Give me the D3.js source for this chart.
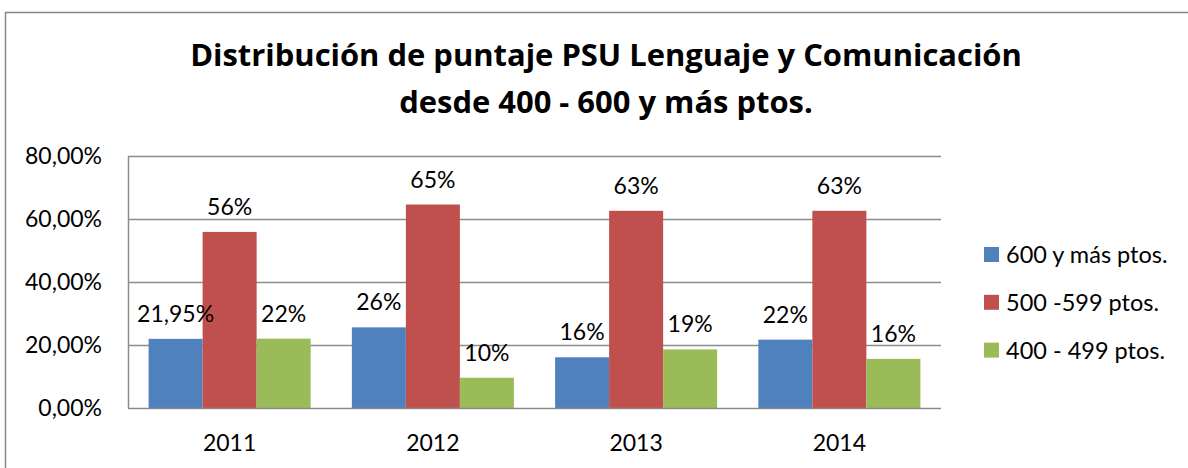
<!DOCTYPE html>
<html>
<head>
<meta charset="utf-8">
<script src="https://cdn.jsdelivr.net/npm/d3@7"></script>
<style>
  body { margin: 0; background: #fff; }
  svg { display: block; font-family: Lato, "Open Sans", sans-serif; }
</style>
</head>
<body>
<svg id="chart" width="1188" height="468"></svg>
<script>
// Chart data
const years = ['2011', '2012', '2013', '2014'];
const seriesNames = ['600 y más ptos.', '500 -599 ptos.', '400 - 499 ptos.'];
const seriesColors = ['#4F81BD', '#C0504D', '#9BBB59'];
const values600 = [21.95, 25.6, 16.1, 21.7];
const values500 = [55.9, 64.6, 62.6, 62.6];
const values400 = [22.0, 9.6, 18.6, 15.6];
const labels600 = ['21,95%', '26%', '16%', '22%'];
const labels500 = ['56%', '65%', '63%', '63%'];
const labels400 = ['22%', '10%', '19%', '16%'];
const yTicks = [0, 20, 40, 60, 80];
const titleLines = ['Distribución de puntaje PSU Lenguaje y Comunicación', 'desde 400 - 600 y más ptos.'];

const svg = d3.select('#chart');

// outer chart frame (right and bottom edges fall off the picture)
svg.append('rect')
  .attr('x', 5.5).attr('y', 12.5)
  .attr('width', 1300).attr('height', 600)
  .attr('fill', 'none')
  .attr('stroke', '#868686')
  .attr('stroke-width', 1.5);

const plot = { left: 128, right: 941, top: 156, bottom: 408 };

const x = d3.scaleBand().domain(years).range([plot.left, plot.right]);
const groupPad = 20.6;
const xs = d3.scaleBand().domain(d3.range(3))
  .range([groupPad, x.bandwidth() - groupPad]);
const y = d3.scaleLinear().domain([0, 80]).range([plot.bottom, plot.top]);

// gridlines
svg.append('g')
  .selectAll('line')
  .data(yTicks.filter(d => d > 0))
  .join('line')
  .attr('x1', plot.left).attr('x2', plot.right)
  .attr('y1', d => Math.round(y(d)) + 0.5).attr('y2', d => Math.round(y(d)) + 0.5)
  .attr('stroke', '#8c8c8c').attr('stroke-width', 1.5);

// y axis labels
svg.append('g')
  .selectAll('text')
  .data(yTicks)
  .join('text')
  .attr('x', 102)
  .attr('y', d => y(d))
  .attr('dy', '0.36em')
  .attr('text-anchor', 'end')
  .attr('font-size', 23)
  .attr('fill', '#000')
  .text(d => d.toFixed(2).replace('.', ',') + '%');

// bars
const series = [values600, values500, values400];
const seriesLabels = [labels600, labels500, labels400];
const barData = [];
series.forEach((vals, s) => {
  vals.forEach((v, i) => barData.push({ year: years[i], s, v, label: seriesLabels[s][i] }));
});

svg.append('g')
  .selectAll('rect')
  .data(barData)
  .join('rect')
  .attr('x', d => x(d.year) + xs(d.s))
  .attr('y', d => y(d.v))
  .attr('width', xs.bandwidth())
  .attr('height', d => y(0) - y(d.v))
  .attr('fill', d => seriesColors[d.s]);

// data labels
svg.append('g')
  .selectAll('text')
  .data(barData)
  .join('text')
  .attr('x', d => x(d.year) + xs(d.s) + xs.bandwidth() / 2)
  .attr('y', d => y(d.v) - 17)
  .attr('text-anchor', 'middle')
  .attr('font-size', 23)
  .attr('fill', '#000')
  .text(d => d.label);

// axes lines
svg.append('line')
  .attr('x1', plot.left + 0.5).attr('x2', plot.left + 0.5)
  .attr('y1', plot.top).attr('y2', plot.bottom)
  .attr('stroke', '#8c8c8c').attr('stroke-width', 1.5);
svg.append('line')
  .attr('x1', plot.left).attr('x2', plot.right)
  .attr('y1', plot.bottom + 0.5).attr('y2', plot.bottom + 0.5)
  .attr('stroke', '#8c8c8c').attr('stroke-width', 1.5);

// x axis labels
svg.append('g')
  .selectAll('text')
  .data(years)
  .join('text')
  .attr('x', d => x(d) + x.bandwidth() / 2)
  .attr('y', 451)
  .attr('text-anchor', 'middle')
  .attr('font-size', 23)
  .attr('fill', '#000')
  .text(d => d);

// title — sized so the first line spans ~832px like the original
const title = svg.append('g')
  .selectAll('text')
  .data(titleLines)
  .join('text')
  .attr('x', 606)
  .attr('y', (d, i) => 66 + i * 47)
  .attr('text-anchor', 'middle')
  .attr('font-family', '"Open Sans", sans-serif')
  .attr('font-size', 28)
  .attr('font-weight', 'bold')
  .attr('fill', '#000')
  .text(d => d);
const w0 = title.nodes()[0].getComputedTextLength();
title.attr('font-size', 28 * 832 / w0);

// legend
const legend = svg.append('g')
  .selectAll('g')
  .data(seriesNames)
  .join('g')
  .attr('transform', (d, i) => `translate(984, ${247 + i * 47.8})`);
legend.append('rect')
  .attr('width', 15).attr('height', 15)
  .attr('fill', (d, i) => seriesColors[i]);
legend.append('text')
  .attr('x', 22).attr('y', 7.5)
  .attr('dy', '0.36em')
  .attr('font-size', 23.5)
  .attr('fill', '#000')
  .text(d => d);
</script>
</body>
</html>
